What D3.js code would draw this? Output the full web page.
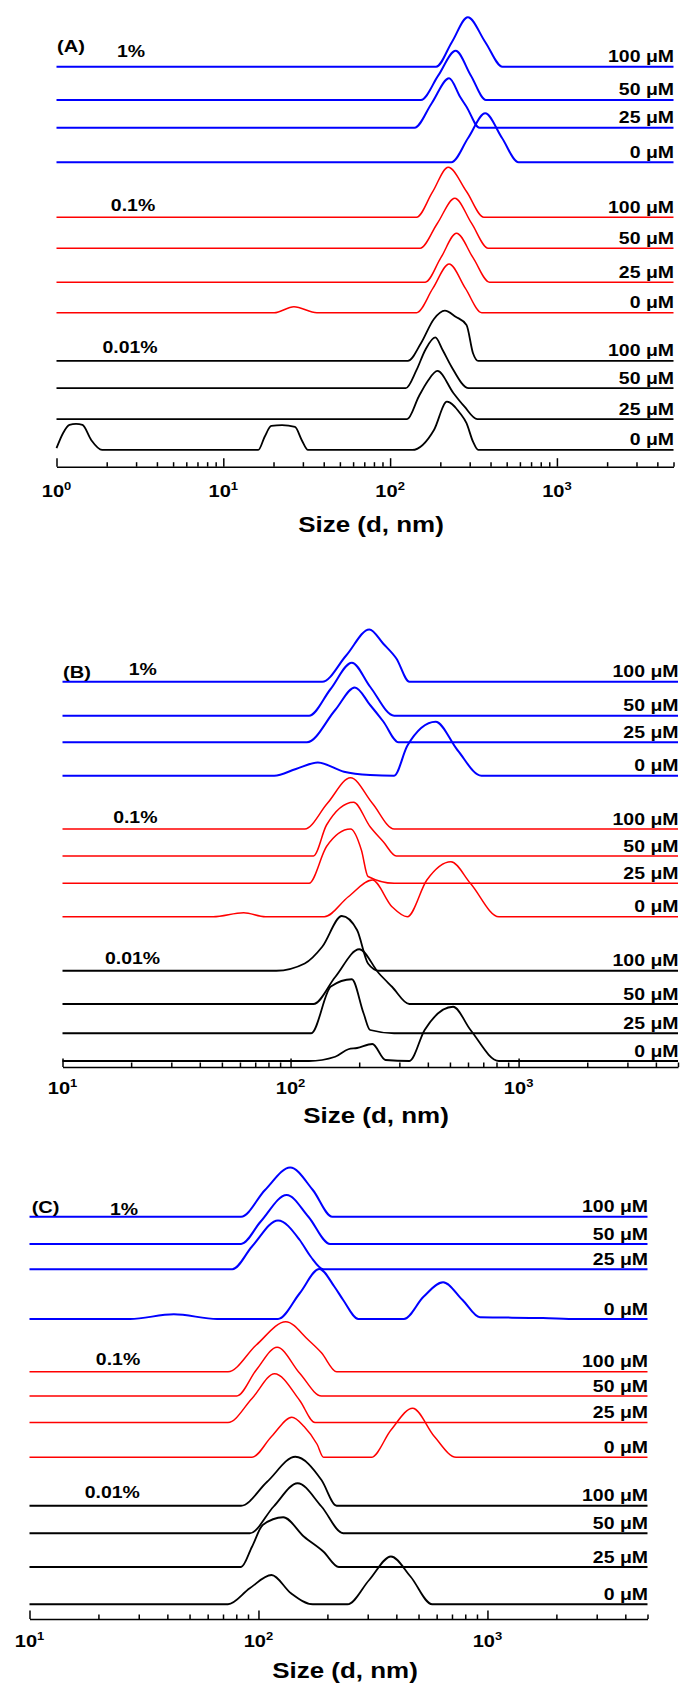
<!DOCTYPE html>
<html><head><meta charset="utf-8">
<script src="https://cdn.jsdelivr.net/npm/d3@7"></script>
<style>
body{margin:0;background:#fff;}
text{font-family:"Liberation Sans",Arial,sans-serif;font-weight:bold;fill:#000;}
</style>
</head><body>
<svg id="chart" width="681" height="1690"></svg>
<script>
// ---------- labels ----------
const concLabels = ["0 \u03bcM", "25 \u03bcM", "50 \u03bcM", "100 \u03bcM"];
const groupLabels = ["0.01%", "0.1%", "1%"];
const groupColors = ["#000000", "#ff0000", "#0000ff"];
const panelLabels = ["(A)", "(B)", "(C)"];
const axisTitle = "Size (d, nm)";

// ---------- Panel A data: [size nm, intensity %] ----------
const A_001_0   = [[1.0,0.7],[1.094,6.7],[1.196,10],[1.309,10.4],[1.431,10],[1.614,4],[1.876,0],[16.2,0],[17.7,5.3],[19.4,9.6],[22.5,9.9],[26.9,9.2],[29.5,4],[32.2,0],[135.8,0],[183.2,8],[219.2,19.3],[262.6,14.7],[287.1,10.7],[314.1,3.3],[337.4,0]];
const A_001_25  = [[126.4,0],[148.6,9.1],[167.5,15.1],[192.2,19.3],[240,10.4],[278.6,5.1],[333.3,0]];
const A_001_50  = [[124.2,0],[144.1,7.3],[162.5,15.3],[186.5,20.3],[206.5,15.3],[232.9,8.7],[296,0]];
const A_001_100 = [[127.8,0],[153.1,7.1],[183.2,16.8],[212.9,20.1],[247.1,17.7],[287.1,14.4],[314.1,3.1],[337.4,0]];
const A_01_0    = [[20.2,0],[26.5,2.4],[36.4,0],[144.1,0],[180.4,9.7],[225.9,19.5],[282.8,9.7],[354.2,0]];
const A_01_25   = [[162.5,0],[201.6,9.8],[250.1,19.6],[314.1,9.8],[394.3,0]];
const A_01_50   = [[151.2,0],[192.2,10],[244.3,20],[307.6,10],[387.3,0]];
const A_01_100  = [[144.1,0],[179.3,10],[223.1,20],[287.1,10.3],[365,0]];
const A_1_0     = [[232.9,0],[294.2,9.8],[371.6,19.6],[467.8,9.8],[589,0]];
const A_1_25    = [[140,0],[178,9.9],[225.9,19.8],[262.6,12.4],[287.1,8.4],[343.6,0]];
const A_1_50    = [[153.1,0],[194.6,9.8],[247.1,19.7],[304.7,9.8],[375.7,0]];
const A_1_100   = [[188.8,0],[234.8,9.9],[292.4,19.8],[371.6,9.9],[471.7,0]];
const A_offsets = [6.7, 19.0, 31.4, 42.3, 61.6, 73.8, 87.4, 99.8, 121.8, 135.6, 146.7, 160];

// ---------- Panel B data ----------
const B_001_0   = [[120.5,0],[157,1.7],[179.2,4.7],[195.7,5.2],[228.4,6.8],[260.9,0.4],[332,0],[387.3,12.4],[516.2,21.7],[615.6,12.4],[819.7,0]];
const B_001_25  = [[123.2,0],[150.2,18.7],[185.7,21.6],[209,8],[223.3,1.3],[284.6,0]];
const B_001_50  = [[126,0],[157,10.8],[200.1,21.9],[243.9,12.3],[278.6,6.9],[332,0]];
const B_001_100 = [[86.6,0],[115.4,2.9],[137.7,9.6],[167.8,21.9],[195.7,16.3],[218.6,2.9],[243.9,0]];
const B_01_0    = [[45.8,0],[62.3,1.6],[77.6,0],[140.6,0],[179.2,8],[228.4,14.7],[278.6,4],[325.1,0],[396,14.7],[504.8,22],[615.6,13.3],[819.7,0]];
const B_01_25   = [[120.5,0],[143.8,14.7],[183.2,21.7],[204.6,13.2],[218.6,2.7],[284.6,0]];
const B_01_50   = [[126,0],[143.8,12.4],[188.9,21.5],[223.3,11.7],[255.1,5.7],[291,0]];
const B_01_100  = [[115.4,0],[145.1,10.3],[183.2,20.5],[228.4,10.3],[284.6,0]];
const B_1_0     = [[84.8,0],[105.6,2.7],[131.7,5.3],[171.5,1.6],[223.3,0.3],[284.6,0],[325.1,12],[432.6,21.6],[539,10.3],[687.2,0]];
const B_1_25    = [[118,0],[157,12.9],[191.4,21.9],[223.3,14.9],[255.1,8.3],[297.6,0]];
const B_1_50    = [[120.5,0],[149.6,10.6],[185.7,21.2],[223.3,11.6],[284.6,0]];
const B_1_100   = [[137.7,0],[175.4,10.5],[221.5,20.9],[255.1,15.2],[291,9.3],[332,0]];
const B_offsets = [2.4, 13.5, 25.2, 38.5, 60.1, 73.5, 84.4, 95.2, 116.5, 129.9, 140.5, 154.1];

// ---------- Panel C data ----------
const C_001_0   = [[73.6,0],[91.6,6.4],[114,11.7],[138.7,4.4],[172.7,0],[244.7,0],[304.4,9.7],[379,19.1],[461.1,11.1],[573.5,0]];
const C_001_25  = [[83.9,0],[93.7,8.1],[104.4,16.8],[128.2,19.9],[158.2,12.1],[192.4,6.1],[224.3,0]];
const C_001_50  = [[91.6,0],[116.5,10.7],[148.2,20],[188.4,10.7],[234.4,0]];
const C_001_100 = [[83.9,0],[109.1,9.6],[144.9,19.6],[188.4,10.3],[219.5,0]];
const C_01_0    = [[93.7,0],[114,8.3],[139.9,16],[158.2,12.3],[180.3,5.2],[192.4,0],[311.2,0],[379,10.9],[471.4,19.6],[586.3,8.3],[729.3,0]];
const C_01_25   = [[73.6,0],[93.7,9.6],[117.5,19.5],[151.4,8.8],[176.5,0]];
const C_01_50   = [[80.4,0],[97.8,10.4],[120.6,19.5],[151.4,9.1],[188.4,0]];
const C_01_100  = [[73.6,0],[97.8,10.7],[131.6,20],[165.2,12.7],[188.4,7.6],[219.5,0]];
const C_1_0     = [[27.5,0],[42.7,1.9],[66,0],[121.7,0],[151.4,10.3],[184.3,20],[214.7,12.9],[234.4,7.6],[273.1,0],[431.9,0],[525.6,8.9],[640,14.7],[778.7,7.6],[927.3,0.7],[1748,0.4],[2480,0]];
const C_1_25    = [[76.9,0],[93.7,9.1],[121.7,19.5],[151.4,11.7],[168.9,5.1],[192.4,0]];
const C_1_50    = [[83.9,0],[102.1,8.9],[132.8,19.6],[165.2,10.9],[205.5,0]];
const C_1_100   = [[83.9,0],[106.8,10.7],[137.5,19.7],[172.7,10.7],[210.1,0]];
const C_offsets = [5.9, 20.8, 34.3, 45.3, 64.7, 78.6, 89.2, 98.9, 120, 139.9, 150, 160.9];

// ---------- layout (positions only) ----------
const panels = [
  { series:[A_001_0,A_001_25,A_001_50,A_001_100,A_01_0,A_01_25,A_01_50,A_01_100,A_1_0,A_1_25,A_1_50,A_1_100],
    offsets:A_offsets, domain:[1,5000], xr:[56.5,673.5], axisY:466.7,
    tickY:497, titleY:532, titleX:371,
    tag:{x:57,y:52}, groups:[{x:130,y:353.3},{x:133,y:210.7},{x:131,y:56.7}] },
  { series:[B_001_0,B_001_25,B_001_50,B_001_100,B_01_0,B_01_25,B_01_50,B_01_100,B_1_0,B_1_25,B_1_50,B_1_100],
    offsets:B_offsets, domain:[10,5000], xr:[62.5,678], axisY:1067,
    tickY:1093.7, titleY:1122.7, titleX:376,
    tag:{x:63,y:678.3}, groups:[{x:132.5,y:964},{x:135.3,y:823.3},{x:142.7,y:675}] },
  { series:[C_001_0,C_001_25,C_001_50,C_001_100,C_01_0,C_01_25,C_01_50,C_01_100,C_1_0,C_1_25,C_1_50,C_1_100],
    offsets:C_offsets, domain:[10,5000], xr:[29.5,647.5], axisY:1619,
    tickY:1646.7, titleY:1678.3, titleX:345,
    tag:{x:31.7,y:1213.3}, groups:[{x:112.3,y:1497.7},{x:118,y:1365},{x:124,y:1215}] }
];
const pxPerUnit = 2.5;
const stretch = 1.18;
const lineWidths = [1.8, 1.5, 2];

const svg = d3.select("#chart");

function addText(g, x, y, str, size, anchor) {
  return g.append("text")
    .attr("transform", `translate(${x},${y}) scale(${stretch},1)`)
    .attr("text-anchor", anchor || "start")
    .style("font-size", size + "px")
    .text(str);
}

panels.forEach((p, pi) => {
  const g = svg.append("g");
  const x = d3.scaleLog().domain(p.domain).range(p.xr);
  const yMax = 180;
  const y = d3.scaleLinear().domain([0, yMax]).range([p.axisY, p.axisY - yMax * pxPerUnit]);

  // curves
  p.series.forEach((pts, si) => {
    const grp = Math.floor(si / 4);
    const off = p.offsets[si];
    let data = pts.slice();
    if (data[0][0] > p.domain[0]) data.unshift([p.domain[0], 0]);
    if (data[data.length - 1][0] < p.domain[1]) data.push([p.domain[1], 0]);
    const line = d3.line()
      .x(d => x(d[0]))
      .y(d => y(off + d[1]))
      .curve(d3.curveMonotoneX);
    g.append("path")
      .attr("d", line(data))
      .attr("fill", "none")
      .attr("stroke", groupColors[grp])
      .attr("stroke-width", lineWidths[grp])
      .attr("stroke-linejoin", "round");
    addText(g, p.xr[1] + 0.5, y(off) - 4.5, concLabels[si % 4], 16.5, "end");
  });

  // group labels
  groupLabels.forEach((lbl, gi) => {
    addText(g, p.groups[gi].x, p.groups[gi].y, lbl, 16.5, "middle");
  });
  addText(g, p.tag.x, p.tag.y, panelLabels[pi], 17, "start");

  // axis
  const e0 = Math.round(Math.log10(p.domain[0]));
  const majors = [], minors = [];
  for (let e = e0; Math.pow(10, e) <= p.domain[1]; e++) {
    majors.push(Math.pow(10, e));
    for (let m = 2; m <= 9; m++) {
      const v = m * Math.pow(10, e);
      if (v <= p.domain[1] + 1e-9) minors.push(v);
    }
  }
  const axG = g.append("g").attr("transform", `translate(0,${p.axisY})`);
  axG.call(d3.axisBottom(x).tickValues(minors).tickSize(-4.5).tickSizeOuter(0).tickFormat(""));
  axG.call(g2 => g2.select(".domain").remove());
  const axG2 = g.append("g").attr("transform", `translate(0,${p.axisY})`);
  axG2.call(d3.axisBottom(x).tickValues(majors).tickSize(-8.5).tickSizeOuter(0).tickFormat(""));
  [axG, axG2].forEach(a => {
    a.selectAll("line").attr("stroke", "#000").attr("stroke-width", 1.5);
    a.selectAll("path").attr("stroke", "#000").attr("stroke-width", 1.6);
  });
  majors.forEach(v => {
    const t = g.append("text")
      .attr("transform", `translate(${x(v)},${p.tickY}) scale(${stretch},1)`)
      .attr("text-anchor", "middle")
      .style("font-size", "17px");
    t.append("tspan").text("10");
    t.append("tspan").attr("dy", -7).style("font-size", "11px").text(String(Math.round(Math.log10(v))));
  });
  addText(g, p.titleX, p.titleY, axisTitle, 22, "middle");
});
</script>
</body></html>
